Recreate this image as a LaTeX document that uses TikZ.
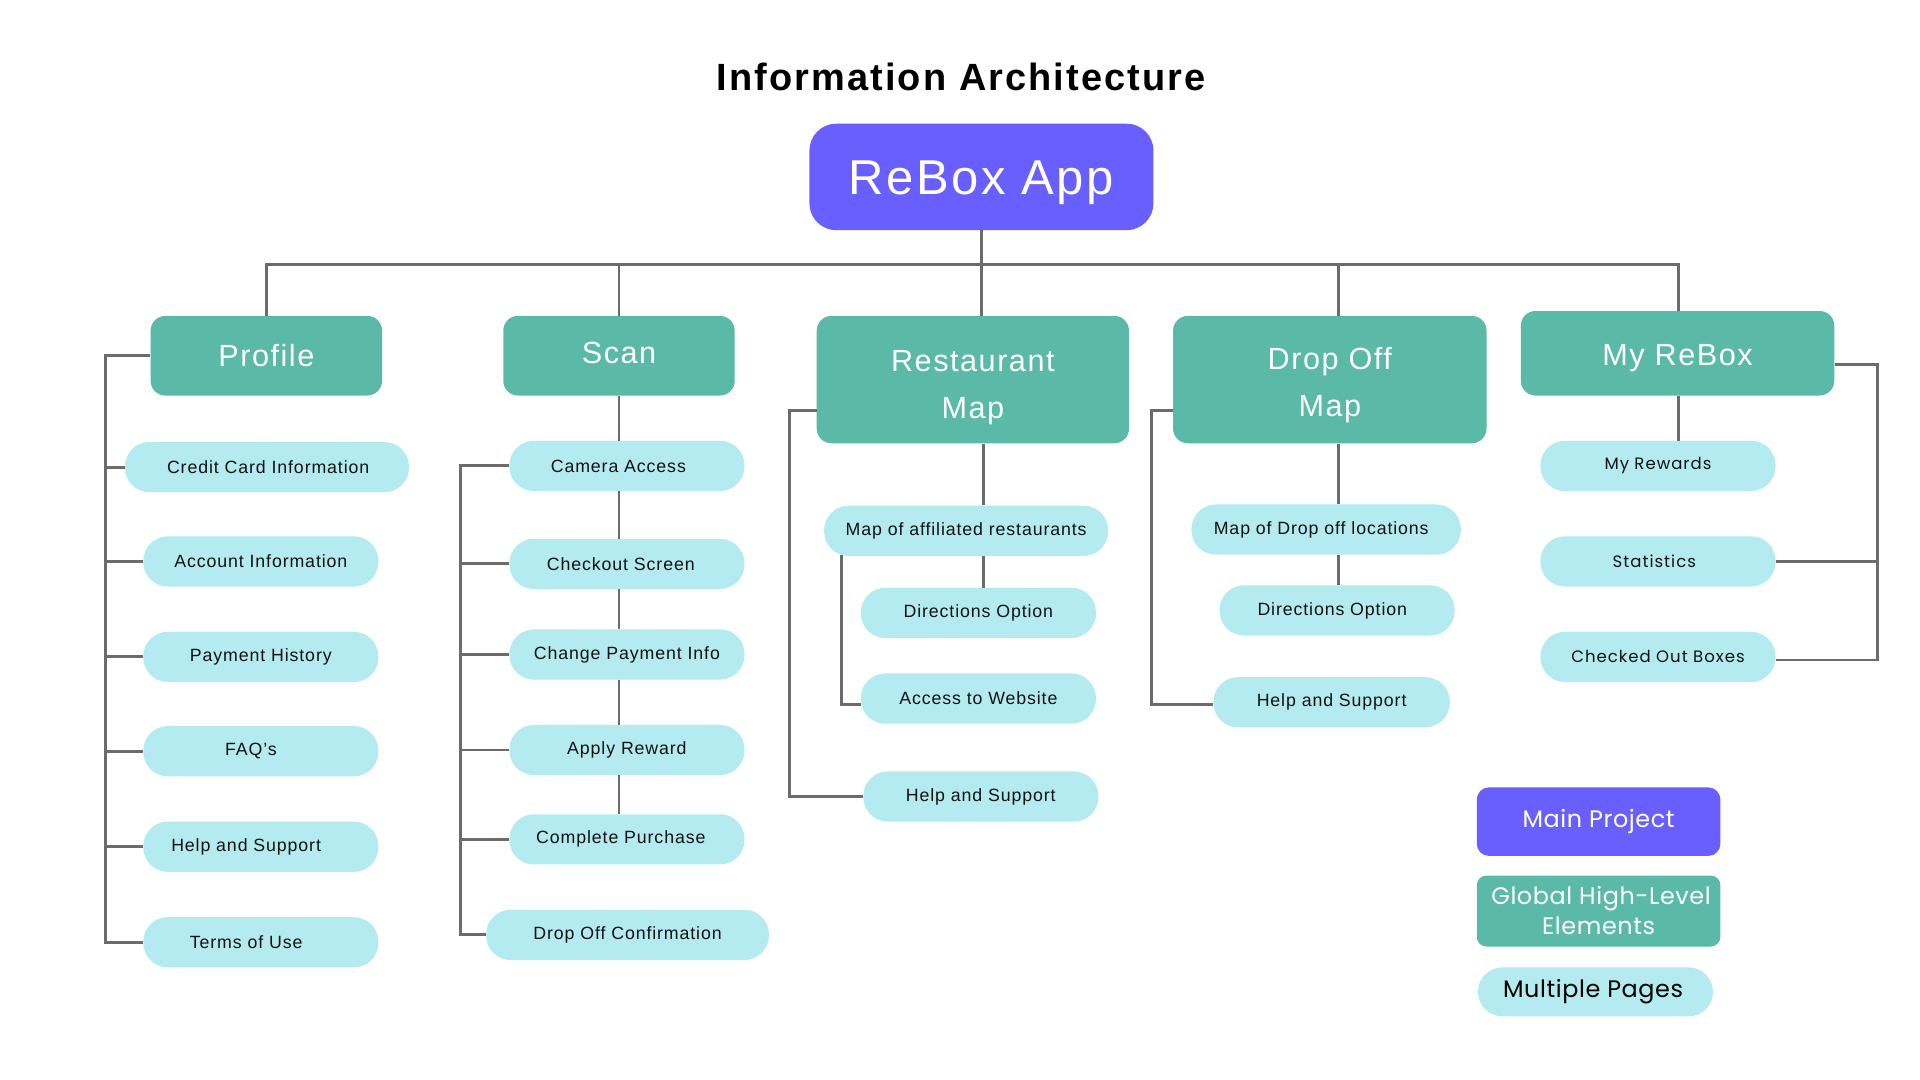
\documentclass[tikz,border=0pt]{standalone}
\usepackage{fontspec}
\newfontfamily\robo[LetterSpace=5]{Liberation Sans}
\newfontfamily\robotitle[LetterSpace=5.5]{Liberation Sans}
\newfontfamily\pop[LetterSpace=6]{Poppins}
\newfontfamily\popl[LetterSpace=2.5]{Poppins}
\newcommand\mvtext[2]{\raisebox{#1}[\height][\depth]{#2}}
\definecolor{purp}{HTML}{685FFE}
\definecolor{teal2}{HTML}{5ABAA7}
\definecolor{cyan2}{HTML}{B3EBF1}
\definecolor{wire}{HTML}{6B6B6B}
\definecolor{ink}{HTML}{111111}
\begin{document}
\begin{tikzpicture}[x=1pt,y=-1pt,
  mainbox/.style={fill=purp,rounded corners=22,inner sep=0,text=white,font=\robo\fontsize{40}{44}\selectfont},
  catbox/.style={fill=teal2,rounded corners=12,inner sep=0,text=white,align=center,font=\robo\fontsize{25}{39}\selectfont},
  leaf/.style={fill=cyan2,rounded corners=20,inner sep=0,minimum height=41,minimum width=192,text=ink,font=\robo\fontsize{14.5}{17}\selectfont},
  leafp/.style={leaf,font=\pop\fontsize{13.5}{16}\selectfont},
  legendbox/.style={inner sep=0,align=center,font=\popl\fontsize{19.5}{25}\selectfont},
  wirel/.style={draw=wire,line width=2.4}]
\useasboundingbox[fill=white] (0,0) rectangle (1568,882);
% title
\node[font=\robotitle\bfseries\fontsize{31}{36}\selectfont,text=black] (title) at (785,63) {Information Architecture};
% main
\node[mainbox,minimum width=281,minimum height=87] (app) at (801.5,144.5) {\mvtext{-5pt}{ReBox App}};
% categories
\node[catbox,minimum width=189,minimum height=65] (profile) at (217.5,290.5) {Profile};
\node[catbox,minimum width=189,minimum height=65] (scan) at (505.5,290.5) {\mvtext{2pt}{Scan}};
\node[catbox,minimum width=255,minimum height=104] (rest) at (794.5,310) {\mvtext{-5pt}{\begin{tabular}{@{}c@{}}Restaurant\\[-1pt]Map\end{tabular}}};
\node[catbox,minimum width=256,minimum height=104] (drop) at (1086,310) {\mvtext{-3pt}{\begin{tabular}{@{}c@{}}Drop Off\\[-1pt]Map\end{tabular}}};
\node[catbox,minimum width=256,minimum height=69] (myrebox) at (1370,288.5) {\mvtext{-4pt}{My ReBox}};
% profile children
\node[leaf,minimum width=232] (cc) at (218,381.5) {\hspace*{2pt}Credit Card Information};
\node[leaf] (acc) at (213,458.5) {Account Information};
\node[leaf] (ph) at (213,536.5) {Payment History};
\node[leaf] (faq) at (213,613.5) {\hspace*{-16pt}FAQ’s};
\node[leaf] (phelp) at (213,691.5) {\hspace*{-24pt}Help and Support};
\node[leaf] (tou) at (213,769.5) {\hspace*{-24pt}Terms of Use};
% scan children
\node[leaf] (cam) at (512,380.5) {\hspace*{-14pt}Camera Access};
\node[leaf] (chk) at (512,460.5) {\hspace*{-10pt}Checkout Screen};
\node[leaf] (cpi) at (512,534.5) {Change Payment Info};
\node[leaf] (ar) at (512,612.5) {Apply Reward};
\node[leaf] (cpur) at (512,685.5) {\hspace*{-10pt}Complete Purchase};
\node[leaf,minimum width=231] (doc) at (512.5,763.5) {Drop Off Confirmation};
% restaurant children
\node[leaf,minimum width=232] (mar) at (789,433.5) {Map of affiliated restaurants};
\node[leaf] (dir1) at (799,500.5) {Directions Option};
\node[leaf] (acw) at (799,570.5) {Access to Website};
\node[leaf] (rhelp) at (801,650.5) {Help and Support};
% drop off children
\node[leaf,minimum width=220] (mdl) at (1083,432.5) {\hspace*{-8pt}Map of Drop off locations};
\node[leaf] (dir2) at (1092,498.5) {\hspace*{-8pt}Directions Option};
\node[leaf,minimum width=193] (dhelp) at (1087.5,573.5) {Help and Support};
% my rebox children
\node[leafp] (rew) at (1354,380.5) {My Rewards};
\node[leafp] (stat) at (1354,458.5) {\hspace*{-6pt}Statistics};
\node[leafp] (cob) at (1354,536.5) {Checked Out Boxes};
% legend
\node[legendbox,fill=purp,text=white,rounded corners=10,minimum width=199,minimum height=56] (lmain) at (1305.5,671) {Main Project};
\node[legendbox,fill=teal2,text=white,rounded corners=8,minimum width=199,minimum height=58] (lglob) at (1305.5,744) {\mvtext{-2pt}{\begin{tabular}{@{}c@{}}\hspace*{4pt}Global High-Level\\[0pt]Elements\end{tabular}}};
\node[legendbox,fill=cyan2,text=black,rounded corners=20,minimum width=192,minimum height=40] (lmult) at (1303,810) {\hspace*{-4pt}Multiple Pages};
% ---- connectors ----
\coordinate (bus) at (803,216);
\coordinate (dropx) at (1093,0);
\coordinate (rx) at (803,0);
\coordinate (myx) at (1371,0);
\draw[wirel] (app.south) -- (app.south |- rest.north);
\draw[wirel] (profile.north) |- (bus -| myx) -- (myx |- myrebox.north);
\draw[wirel] (scan.north) -- (scan.north |- bus);
\draw[wirel] (dropx |- bus) -- (dropx |- drop.north);
% profile rail
\coordinate (pr) at (86,290);
\draw[wirel] (profile.west |- pr) -- (pr) -- (pr |- tou.west) -- (tou.west);
\foreach \n in {cc,acc,ph,faq,phelp}{\draw[wirel] (pr |- \n.west) -- (\n.west);}
% scan chain and rail
\draw[wirel] (scan.south) -- (scan.south |- cam.north);
\draw[wirel] (scan.south |- cam.south) -- (scan.south |- chk.north);
\draw[wirel] (scan.south |- chk.south) -- (scan.south |- cpi.north);
\draw[wirel] (scan.south |- cpi.south) -- (scan.south |- ar.north);
\draw[wirel] (scan.south |- ar.south) -- (scan.south |- cpur.north);
\coordinate (sr) at (376,380);
\draw[wirel] (cam.west |- sr) -- (sr) -- (sr |- doc.west) -- (doc.west);
\foreach \n in {chk,cpi,ar,cpur}{\draw[wirel] (sr |- \n.west) -- (\n.west);}
% restaurant
\draw[wirel] (rx |- rest.south) -- (rx |- mar.north);
\draw[wirel] (rx |- mar.south) -- (rx |- dir1.north);
\coordinate (ri) at (687,453);
\coordinate (ris) at (687,575);
\draw[wirel] (ri) -- (ris) -- (ris -| acw.west);
\coordinate (ro) at (645,335);
\draw[wirel] (ro -| rest.west) -- (ro) -- (ro |- rhelp.west) -- (rhelp.west);
% drop off
\draw[wirel] (dropx |- drop.south) -- (dropx |- mdl.north);
\draw[wirel] (dropx |- mdl.south) -- (dropx |- dir2.north);
\coordinate (dro) at (940,335);
\coordinate (drs) at (940,575);
\draw[wirel] (dro -| drop.west) -- (dro) -- (drs) -- (drs -| dhelp.west);
% my rebox
\draw[wirel] (myx |- myrebox.south) -- (myx |- rew.north);
\coordinate (mr) at (1533,298);
\coordinate (mrs) at (1533,539);
\draw[wirel] (mr -| myrebox.east) -- (mr) -- (mrs) -- (mrs -| cob.east);
\draw[wirel] (stat.east) -- (stat.east -| mr);
\end{tikzpicture}
\end{document}
